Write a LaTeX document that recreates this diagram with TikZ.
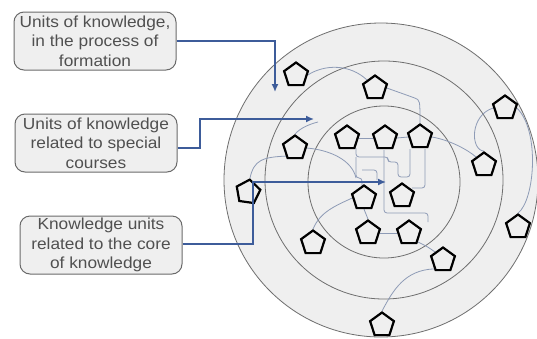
\documentclass[tikz,border=0pt]{standalone}
\usepackage{fontspec}
\setmainfont{Liberation Sans}[FakeStretch=1.08]
\usetikzlibrary{shapes.geometric,arrows.meta}
\definecolor{diskfill}{HTML}{EFEFEF}
\definecolor{ringline}{HTML}{6E6E6E}
\definecolor{boxline}{HTML}{6A6A6A}
\definecolor{txt}{HTML}{505050}
\definecolor{arrowblue}{HTML}{3D5C9A}
\definecolor{thinblue}{HTML}{8E9BB6}
\pgfdeclarelayer{rings}
\pgfdeclarelayer{links}
\pgfsetlayers{rings,links,main}
\tikzset{
  ring/.style={draw=ringline,line width=0.8pt,fill=diskfill},
  label box/.style={draw=boxline,line width=1pt,fill=diskfill,rounded corners=10pt,
    minimum width=162pt,minimum height=58pt,align=center,text=txt,
    font=\fontsize{16}{19.5}\selectfont,inner sep=0pt},
  unit/.style={regular polygon,regular polygon sides=5,minimum size=25pt,inner sep=0pt,
    draw=black,line width=2.2pt,fill=diskfill},
  pointer/.style={draw=arrowblue,line width=1.5pt,-{Latex[length=8pt,width=7pt]}},
  link/.style={draw=thinblue,line width=0.8pt,rounded corners=3pt},
}
\begin{document}
\begin{tikzpicture}[x=1pt,y=-1pt]
\useasboundingbox (0,0) rectangle (537,338);
% rings
\begin{pgfonlayer}{rings}
\draw[ring] (381,180) circle (157);
\draw[ring] (384,180) circle (119);
\draw[ring] (384,182) circle (76);
\end{pgfonlayer}
% boxes
\node[label box] (b1) at (95,41) {Units of knowledge,\\in the process of\\formation};
\node[label box] (b2) at (96,143) {Units of knowledge\\related to special\\courses};
\node[label box] (b3) at (101,245) {Knowledge units\\related to the core\\of knowledge};
% units
\node[unit] (u1) at (296,75) {};
\node[unit] (u2) at (375,88) {};
\node[unit] (u3) at (505,108) {};
\node[unit] (u4) at (295,148) {};
\node[unit] (u5) at (347,138) {};
\node[unit] (u6) at (385,138) {};
\node[unit] (u7) at (420,137) {};
\node[unit] (u8) at (484,165) {};
\node[unit,rotate=-8] (u9) at (248,192) {};
\node[unit] (u10) at (364,198) {};
\node[unit] (u11) at (402,196) {};
\node[unit] (u12) at (313,243) {};
\node[unit] (u13) at (368,233) {};
\node[unit] (u14) at (409,233) {};
\node[unit] (u15) at (443,260) {};
\node[unit] (u16) at (518,227) {};
\node[unit] (u17) at (382,325) {};
% thin links
\begin{pgfonlayer}{links}
\draw[link] (u1.east) .. controls (325,64) and (350,64) .. (u2.north west);
\draw[link] (u2.east) -- (412,97) .. controls (420,100) .. (u7.north);
\draw[link] (u5.east) -- (u6.west);
\draw[link] (u6.east) -- (u7.west);
\draw[link] (u7.east) .. controls (450,140) and (468,150) .. (u8.north west);
\draw[link] (u3.west) .. controls (470,115) and (470,150) .. (u8.north);
\draw[link] (u3.east) .. controls (540,130) and (535,200) .. (u16.north);
\draw[link] (u4.east) .. controls (330,150) and (352,160) .. (356,178);
\draw[link] (u9.north) .. controls (254,160) and (262,157) .. (288,156);
\draw[link] (u4.north) .. controls (300,128) and (310,124) .. (318,122);
\draw[link] (u12.north) .. controls (320,212) and (335,206) .. (u10.west);
\draw[link] (u10.south) -- (u13.north);
\draw[link] (u13.east) -- (u14.west);
\draw[link] (u14.south east) .. controls (428,247) .. (u15.north west);
\draw[link] (u17.north) .. controls (393,290) and (405,270) .. (u15.south west);
\draw[link] (356,148) -- (356,157) -- (388,157) -- (388,162) -- (398,162) -- (398,177) -- (410,177) -- (410,149);
\draw[link] (356,157) -- (356,178) -- (362,178) -- (362,187);
\draw[link] (425,149) -- (425,188) -- (412,188);
\draw[link] (384,150) -- (384,213) -- (428,213) -- (428,222);
\draw[link] (362,170) -- (377,170) -- (377,180);
\end{pgfonlayer}
% pointers
\coordinate (t1) at (275,92);
\coordinate (t2) at (314,119);
\coordinate (t3) at (386,182);
\draw[pointer] (b1.east) -| (t1);
\draw[pointer] ([yshift=-5pt]b2.east) -- (200,148) -- (200,119) -- (t2);
\draw[pointer] ([yshift=1pt]b3.east) -- (253,244) -- (253,182) -- (t3);
\end{tikzpicture}
\end{document}
